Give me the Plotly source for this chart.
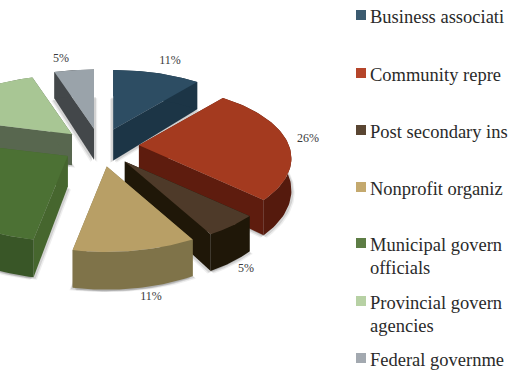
import numpy as np
import plotly.graph_objects as go

values = [11, 26, 5, 11, 26, 16, 5]
pull = [0.26, 0.26, 0.27, 0.29, 0.255, 0.256, 0.256]
top_colors = ["#2d4d63", "#a43a1f", "#4e3a29", "#b89f66", "#4c7134", "#a8c694", "#9aa3aa"]
radial_colors = ["#1c3546", "#5e1c0e", "#1f1708", "#7f7349", "#46662e", "#58674f", "#43474a"]
arc_colors = ["#1c3546", "#551a0d", "#1f1708", "#7f7349", "#395627", "#58674f", "#43474a"]
legend_colors = ["#3b5b70", "#b5452a", "#5a4632", "#c4a96e", "#5d7d45", "#b7d1a4", "#a3a9b0"]
legend_lines = [["Business associati"], ["Community repre"], ["Post secondary ins"],
                ["Nonprofit organiz"], ["Municipal govern", "officials"],
                ["Provincial govern", "agencies"], ["Federal governme"]]
legend_y = [15, 73, 130, 187, 243, 301, 358]
pct_labels = ["11%", "26%", "5%", "11%", None, None, "5%"]
pct_x = [170, 308, 246, 151, None, None, 61]
pct_y = [61, 139, 269, 297, None, None, 59]

CX, CY, A, B, K, DEPTH = 100, 146.5, 150, 70, 0.18, 31
draw_order = [6, 0, 5, 1, 4, 2, 3]


def project(theta, apex):
    w = 1 + K * np.cos(theta)
    return apex[0] + A * np.sin(theta) / w, apex[1] - B * np.cos(theta) / w, DEPTH / w


def poly(fig, x, y, color, opacity=1.0):
    fig.add_trace(go.Scatter(x=list(x) + [x[0]], y=list(y) + [y[0]], mode="lines", fill="toself",
                             fillcolor=color, line=dict(width=0), opacity=opacity,
                             hoverinfo="skip", showlegend=False))


fig = go.Figure()
edges = np.cumsum([0] + values) / sum(values) * 2 * np.pi
for i in draw_order:
    t0, t1 = edges[i], edges[i + 1]
    mid = (t0 + t1) / 2
    apex = (CX + pull[i] * A * np.sin(mid), CY - pull[i] * B * np.cos(mid))
    th = np.linspace(t0, t1, 60)
    ax, ay, ad = project(th, apex)
    # soft shadow
    for off, op in ((4, 0.10), (2.5, 0.18)):
        poly(fig, np.r_[apex[0], ax] + off * 0.8, np.r_[apex[1] + DEPTH, ay + ad] + off * 0.6, "#555555", op)
        poly(fig, np.r_[apex[0], ax] - off * 0.8, np.r_[apex[1] + DEPTH, ay + ad] + off * 0.6, "#555555", op)
    # radial faces
    for k in (0, -1):
        poly(fig, [apex[0], ax[k], ax[k], apex[0]],
             [apex[1], ay[k], ay[k] + ad[k], apex[1] + DEPTH], radial_colors[i])
    # outer face
    poly(fig, np.r_[ax, ax[::-1]], np.r_[ay, (ay + ad)[::-1]], arc_colors[i])
    # top
    poly(fig, np.r_[apex[0], ax], np.r_[apex[1], ay], top_colors[i])

fig.add_trace(go.Scatter(x=[x for x in pct_x if x is not None], y=[y for y in pct_y if y is not None],
                         text=[t for t in pct_labels if t], mode="text", textposition="middle center",
                         textfont=dict(family="Liberation Serif", size=12, color="#3a3a3a"),
                         hoverinfo="skip", showlegend=False))
fig.add_trace(go.Scatter(x=[361] * 7, y=legend_y, mode="markers",
                         marker=dict(symbol="square", size=10, color=legend_colors),
                         hoverinfo="skip", showlegend=False))

annotations = []
for lines, y in zip(legend_lines, legend_y):
    for n, line in enumerate(lines):
        annotations.append(dict(x=368, y=y + 2 + n * 22.5, text=line, xref="x", yref="y", showarrow=False,
                                xanchor="left", yanchor="middle",
                                font=dict(family="Liberation Serif", size=18.5, color="#2a2a2a")))

fig.update_layout(width=510, height=382, margin=dict(l=0, r=0, t=0, b=0), paper_bgcolor="white",
                  plot_bgcolor="white", showlegend=False, annotations=annotations,
                  xaxis=dict(range=[0, 510], visible=False, fixedrange=True),
                  yaxis=dict(range=[382, 0], visible=False, fixedrange=True))
fig.write_html("out.html", post_script="document.body.style.margin='0';", config=dict(displayModeBar=False))
